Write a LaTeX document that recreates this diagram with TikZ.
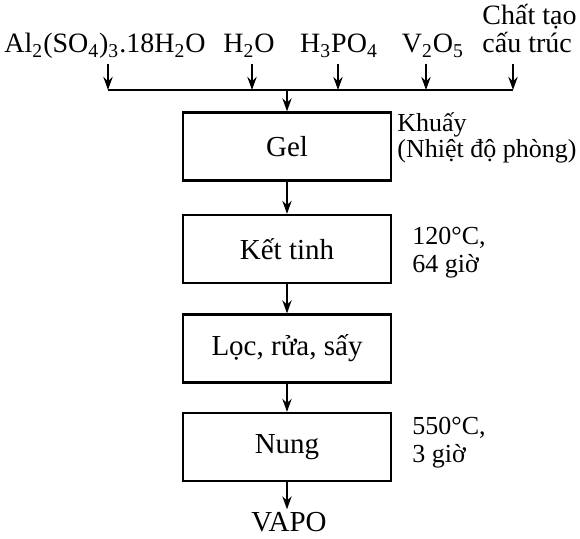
\documentclass[tikz,border=0pt]{standalone}
\usepackage{fontspec}
\setmainfont{Liberation Serif}
\usetikzlibrary{arrows.meta}
\begin{document}
\begin{tikzpicture}[x=0.5pt,y=-0.5pt,
  every node/.style={font=\fontsize{14.5}{16}\selectfont, inner sep=0pt},
  toplabel/.style={font=\fontsize{14}{16}\selectfont},
  note/.style={anchor=base west, font=\fontsize{13}{15}\selectfont},
  stepbox/.style={draw, line width=1.1pt, minimum width=104pt, minimum height=34pt},
  link/.style={line width=1.1pt},
  arr/.style={line width=1.1pt, -{Stealth[length=6.5pt,width=4.6pt]}}]
\useasboundingbox (0,0) rectangle (580,539);
% top inputs
\node[toplabel, anchor=base] (al) at (105,53) {Al\textsubscript{2}(SO\textsubscript{4})\textsubscript{3}.18H\textsubscript{2}O};
\node[toplabel, anchor=base] (water) at (249,53) {H\textsubscript{2}O};
\node[toplabel, anchor=base] (acid) at (339,53) {H\textsubscript{3}PO\textsubscript{4}};
\node[toplabel, anchor=base] (vox) at (433,53) {V\textsubscript{2}O\textsubscript{5}};
\node[toplabel, anchor=base west] (tpl1) at (482,25) {Chất tạo};
\node[toplabel, anchor=base west] (tpl2) at (482,53) {cấu trúc};
% arrow coordinates
\coordinate (t1) at (108,64); \coordinate (b1) at (108,90);
\coordinate (t2) at (252,64); \coordinate (b2) at (252,90);
\coordinate (t3) at (338,64); \coordinate (b3) at (338,90);
\coordinate (t4) at (426,64); \coordinate (b4) at (426,90);
\coordinate (t5) at (513,64); \coordinate (b5) at (513,90);
\coordinate (bus) at (287,90);
% boxes
\node[stepbox] (gel) at (287,146.5) {Gel};
\node[stepbox] (ket) at (287,249) {Kết tinh};
\node[stepbox] (loc) at (287,348.5) {Lọc, rửa, sấy};
\node[stepbox] (nung) at (287,447) {Nung};
\node[anchor=base, inner sep=1.5pt] (vapo) at (289,532) {VAPO};
% side notes
\node[note] (k1) at (397,132) {Khuấy};
\node[note] (k2) at (397,158) {(Nhiệt độ phòng)};
\node[note] (c1) at (412,245) {120°C,};
\node[note] (c2) at (412,273) {64 giờ};
\node[note] (n1) at (412,435) {550°C,};
\node[note] (n2) at (412,463) {3 giờ};
% connectors
\draw[link] (b1) -- (b5);
\foreach \i in {1,...,5} { \draw[arr] (t\i) -- (b\i); }
\draw[arr] (bus) -- (gel.north);
\draw[arr] (gel.south) -- (ket.north);
\draw[arr] (ket.south) -- (loc.north);
\draw[arr] (loc.south) -- (nung.north);
\draw[arr] (nung.south) -- (nung.south |- vapo.north);
\end{tikzpicture}
\end{document}
